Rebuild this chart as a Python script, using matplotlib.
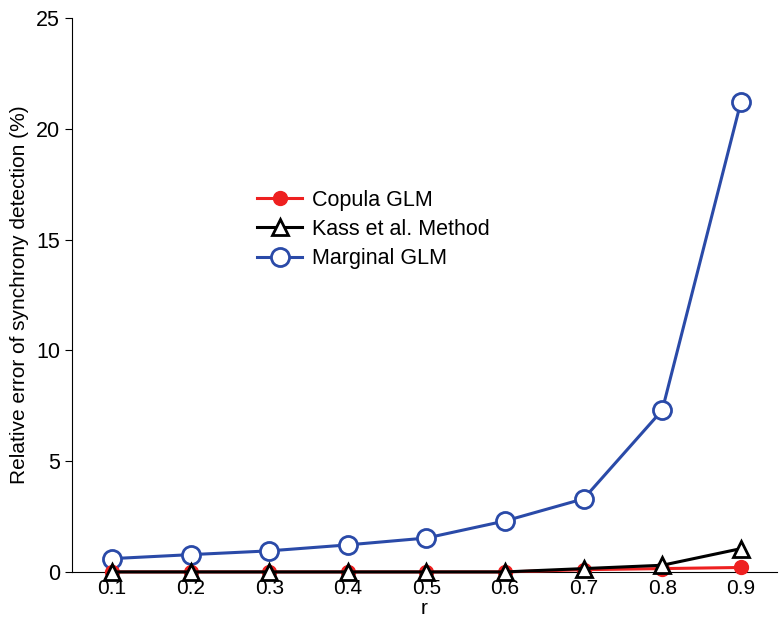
import matplotlib
matplotlib.use("Agg")
import matplotlib.pyplot as plt

r = [0.1, 0.2, 0.3, 0.4, 0.5, 0.6, 0.7, 0.8, 0.9]
copula = [0.0, 0.0, 0.0, 0.0, 0.0, 0.0, 0.1, 0.15, 0.2]
kass = [0.0, 0.0, 0.0, 0.0, 0.0, 0.0, 0.15, 0.3, 1.05]
marginal = [0.6, 0.78, 0.95, 1.22, 1.53, 2.3, 3.3, 7.3, 21.2]
xticks = [0.1, 0.2, 0.3, 0.4, 0.5, 0.6, 0.7, 0.8, 0.9]
yticks = [0, 5, 10, 15, 20, 25]

plt.rcParams['font.family'] = ['Liberation Sans', 'DejaVu Sans']
fig = plt.figure(figsize=(7.79, 6.23), dpi=100)
ax = fig.add_axes([0.0924, 0.082, 0.905, 0.889])

ax.plot(r, copula, color='#ee2020', lw=2.2, marker='o', ms=10, mfc='#ee2020', mec='#ee2020', label='Copula GLM', zorder=3, clip_on=False)
ax.plot(r, kass, color='black', lw=2.2, marker='^', ms=11, mfc='white', mec='black', mew=2, label='Kass et al. Method', zorder=4, clip_on=False)
ax.plot(r, marginal, color='#2a4aa8', lw=2.2, marker='o', ms=13, mfc='white', mec='#2a4aa8', mew=2, label='Marginal GLM', zorder=2, clip_on=False)

ax.set_xlim(0.049, 0.946)
ax.set_ylim(0, 25)
ax.set_xticks(xticks)
ax.set_xticklabels([f"{v:.1f}" for v in xticks])
ax.set_yticks(yticks)
for s in ['top', 'right']:
    ax.spines[s].set_visible(False)
ax.spines['left'].set_linewidth(0.8)
ax.spines['bottom'].set_linewidth(0.8)
ax.tick_params(axis='y', direction='out', length=5, labelsize=15.5, width=0.8)
ax.tick_params(axis='x', direction='in', length=4, labelsize=15, width=0.8, pad=5)
ax.set_xlabel('r', fontsize=15, labelpad=0.5)
ax.set_ylabel('Relative error of synchrony detection (%)', fontsize=15, labelpad=5)

ax.legend(loc='upper left', bbox_to_anchor=(0.235, 0.725), frameon=False, fontsize=15.5,
          handlelength=2.1, labelspacing=0.38, handletextpad=0.45)

fig.savefig('out.png', dpi=100)
